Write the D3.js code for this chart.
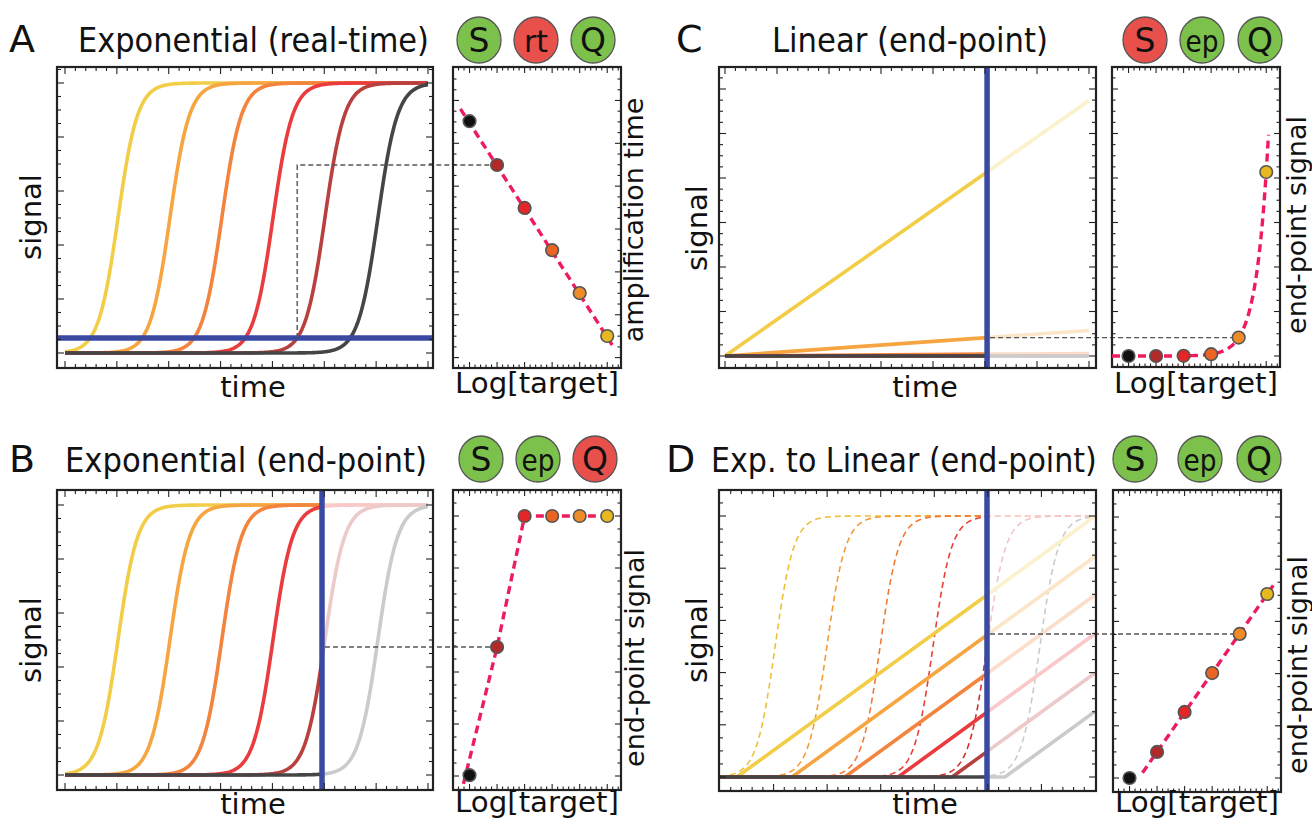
<!DOCTYPE html>
<html><head><meta charset="utf-8">
<script src="https://cdn.jsdelivr.net/npm/d3@7"></script>
<style>body{margin:0;background:#fff} svg{display:block}</style>
</head><body>
<svg id="fig" width="1312" height="821"></svg>
<script>
// ---------------- DATA ----------------
// samples ordered from highest target (earliest) to lowest target (latest)
const sampleNames = ["T6","T5","T4","T3","T2","T1"];
const logTarget = [5,4,3,2,1,0];
const curveColors = ["#f2cd48","#f6a540","#f2843e","#ea3c3e","#b8403e","#454545"];
const pointColors = ["#e8b820","#f08c28","#ec6424","#e52626","#b02a2a","#111111"];
const dashColorsD = ["#f0bf3a","#f59a35","#f07a35","#e84035","#d23030","#454545"];

const panelLetters = ["A","B","C","D"];
const panelTitles = ["Exponential (real-time)","Exponential (end-point)","Linear (end-point)","Exp. to Linear (end-point)"];
const badgeTexts = [["S","rt","Q"],["S","ep","Q"],["S","ep","Q"],["S","ep","Q"]];
const badgeOk = [[true,false,true],[true,true,false],[false,true,true],[true,true,true]];
const mainXLabel = "time";
const mainYLabel = "signal";
const sideXLabel = "Log[target]";
const sideYLabels = ["amplification time","end-point signal","end-point signal","end-point signal"];

// Panel A/B: exponential (sigmoidal) amplification curves
const expMidAB = [14.6, 28.9, 43.2, 57.3, 71.6, 86.2];
const expRateAB = 0.37;
const thresholdA = 0.056;
const ampTimeA = [7.2, 21.5, 35.8, 49.9, 64.2, 78.8];
const fitA_x = [-0.33, 5.18];
const fitA_y = [82.9, 4.2];
const connectSampleA = 4;

const blueTimeB = 70.8;
const endSignalB = [1.0, 1.0, 1.0, 1.0, 0.496, 0.003];
const fitB_x = [-0.22, 1, 2, 5];
const fitB_y = [-0.03, 0.496, 1.0, 1.0];
const connectSampleB = 4;

// Panel C: linear amplification
const blueTimeC = 72.0;
const endSignalC = [0.827, 0.0827, 0.00827, 0.000827, 0.0000827, 0.00000827];
const fitC_amp = 0.827;
const fitC_range = [-0.6, 5.08];
const connectSampleC = 1;

// Panel D: exponential to linear
const expMidD = [14.7, 28.5, 42.7, 56.8, 71.2, 85.3];
const expRateD = 0.40;
const linStartD = [4.5, 19.2, 33.3, 47.5, 61.9, 76.0];
const linSlopeD = 0.01046;
const blueTimeD = 71.2;
const endSignalD = [0.705, 0.552, 0.402, 0.253, 0.100, 0.0];
const fitD_x = [0.47, 5.22];
const fitD_y = [0.02, 0.738];
const connectSampleD = 1;

// ---------------- DRAWING ----------------
const FONT = "DejaVu Sans, Verdana, sans-serif";
const svg = d3.select("#fig");
const defs = svg.append("defs");
const BLUE = "#3a4aa2";
const FIT = "#ee1c5c";
const fade = c => d3.interpolateRgb(c, "#ffffff")(0.72);
const line = d3.line();
let clipN = 0;
function clip(x0, y0, x1, y1) {
  const id = "c" + (clipN++);
  defs.append("clipPath").attr("id", id).append("rect")
    .attr("x", x0).attr("y", y0).attr("width", x1 - x0).attr("height", y1 - y0);
  return `url(#${id})`;
}
function tickVals(lo, hi, step) {
  const out = [];
  const n0 = Math.ceil(lo / step - 1e-9), n1 = Math.floor(hi / step + 1e-9);
  for (let n = n0; n <= n1; n++) out.push(n * step);
  return out;
}
function frame(fr, xs, ys, xMaj, xMin, yMaj, yMin, majLen, minLen) {
  const g = svg.append("g").attr("stroke", "#222").attr("fill", "none");
  const [x0, y0, x1, y1] = fr;
  const xlo = Math.min(xs.invert(x0), xs.invert(x1)), xhi = Math.max(xs.invert(x0), xs.invert(x1));
  const ylo = Math.min(ys.invert(y0), ys.invert(y1)), yhi = Math.max(ys.invert(y0), ys.invert(y1));
  const isMaj = (v, s) => Math.abs(v / s - Math.round(v / s)) < 1e-6;
  tickVals(xlo, xhi, xMin).forEach(v => {
    const px = xs(v); if (px < x0 + 2 || px > x1 - 2) return;
    const L = isMaj(v, xMaj) ? majLen : minLen;
    g.append("line").attr("x1", px).attr("x2", px).attr("y1", y1).attr("y2", y1 - L).attr("stroke-width", 1.1);
    g.append("line").attr("x1", px).attr("x2", px).attr("y1", y0).attr("y2", y0 + L).attr("stroke-width", 1.1);
  });
  tickVals(ylo, yhi, yMin).forEach(v => {
    const py = ys(v); if (py < y0 + 2 || py > y1 - 2) return;
    const L = isMaj(v, yMaj) ? majLen : minLen;
    g.append("line").attr("y1", py).attr("y2", py).attr("x1", x0).attr("x2", x0 + L).attr("stroke-width", 1.1);
    g.append("line").attr("y1", py).attr("y2", py).attr("x1", x1).attr("x2", x1 - L).attr("stroke-width", 1.1);
  });
  g.append("rect").attr("x", x0).attr("y", y0).attr("width", x1 - x0).attr("height", y1 - y0)
    .attr("stroke-width", 2.2);
}
const sig = (t, m, k) => 1 / (1 + Math.exp(-k * (t - m)));
const ts = d3.range(0, 100.0001, 0.25);

function drawPoints(xs, ys, vals) {
  const g = svg.append("g");
  vals.forEach((v, i) => {
    g.append("circle").attr("cx", xs(logTarget[i])).attr("cy", ys(v)).attr("r", 6.3)
      .attr("fill", pointColors[i]).attr("stroke", "#555").attr("stroke-width", 1.6);
  });
}
function fitPath(xs, ys, px, py, cp) {
  svg.append("path").attr("d", line(px.map((x, i) => [xs(x), ys(py[i])])))
    .attr("fill", "none").attr("stroke", FIT).attr("stroke-width", 3.4)
    .attr("stroke-dasharray", "8,5").attr("clip-path", cp);
}
function connector(pts) {
  svg.append("path").attr("d", line(pts)).attr("fill", "none")
    .attr("stroke", "#555").attr("stroke-width", 1.4).attr("stroke-dasharray", "5,3");
}
function blueV(x, fr) {
  svg.append("line").attr("x1", x).attr("x2", x).attr("y1", fr[1]).attr("y2", fr[3])
    .attr("stroke", BLUE).attr("stroke-width", 5.5);
}

// ----- Panel A -----
{
  const fr = [57, 67, 433, 368], sfr = [453, 67, 621, 368];
  const xs = d3.scaleLinear().domain([0, 100]).range([65, 428]);
  const ys = d3.scaleLinear().domain([0, 1]).range([353, 83]);
  const cp = clip(fr[0], fr[1], fr[2], fr[3]);
  const g = svg.append("g").attr("clip-path", cp);
  expMidAB.forEach((m, i) => {
    g.append("path").attr("d", line(ts.map(t => [xs(t), ys(sig(t, m, expRateAB))])))
      .attr("fill", "none").attr("stroke", curveColors[i]).attr("stroke-width", 3.6);
  });
  svg.append("line").attr("x1", fr[0]).attr("x2", fr[2]).attr("y1", ys(thresholdA)).attr("y2", ys(thresholdA))
    .attr("stroke", BLUE).attr("stroke-width", 5.5);
  const sx = d3.scaleLinear().domain([-0.6, 5.5]).range([sfr[0], sfr[2]]);
  const sy = d3.scaleLinear().domain([7.2, 78.8]).range([336, 121.2]);
  const k = connectSampleA;
  const tc = expMidAB[k] - Math.log((1 - thresholdA) / thresholdA) / expRateAB;
  connector([[xs(tc), ys(thresholdA)], [xs(tc), sy(ampTimeA[k])], [sx(logTarget[k]), sy(ampTimeA[k])]]);
  frame(fr, xs, ys, 100 / 7, 100 / 35, 0.2, 0.05, 7, 4);
  frame(sfr, sx, sy, 1, 0.2, 100 / 7, 100 / 28, 6, 3.5);
  fitPath(sx, sy, fitA_x, fitA_y, clip(sfr[0], sfr[1], sfr[2], sfr[3]));
  drawPoints(sx, sy, ampTimeA);
}
// ----- Panel B -----
{
  const fr = [57, 490, 433, 790], sfr = [453, 490, 621, 790];
  const xs = d3.scaleLinear().domain([0, 100]).range([65, 428]);
  const ys = d3.scaleLinear().domain([0, 1]).range([775, 505]);
  const bx = xs(blueTimeB);
  const cpL = clip(fr[0], fr[1], bx, fr[3]), cpR = clip(bx, fr[1], fr[2], fr[3]);
  const gR = svg.append("g").attr("clip-path", cpR);
  const gL = svg.append("g").attr("clip-path", cpL);
  expMidAB.forEach((m, i) => {
    const d = line(ts.map(t => [xs(t), ys(sig(t, m, expRateAB))]));
    gR.append("path").attr("d", d).attr("fill", "none").attr("stroke", fade(curveColors[i])).attr("stroke-width", 3.6);
    gL.append("path").attr("d", d).attr("fill", "none").attr("stroke", curveColors[i]).attr("stroke-width", 3.6);
  });
  blueV(bx, fr);
  const sx = d3.scaleLinear().domain([-0.6, 5.5]).range([sfr[0], sfr[2]]);
  const sy = d3.scaleLinear().domain([0, 1]).range([776, 516]);
  const k = connectSampleB;
  connector([[bx + 3, sy(endSignalB[k])], [sx(logTarget[k]), sy(endSignalB[k])]]);
  frame(fr, xs, ys, 100 / 7, 100 / 35, 0.2, 0.05, 7, 4);
  frame(sfr, sx, sy, 1, 0.2, 0.2, 0.05, 6, 3.5);
  fitPath(sx, sy, fitB_x, fitB_y, clip(sfr[0], sfr[1], sfr[2], sfr[3]));
  drawPoints(sx, sy, endSignalB);
}
// ----- Panel C -----
{
  const fr = [719, 67, 1096, 368], sfr = [1112, 67, 1280, 367];
  const xs = d3.scaleLinear().domain([0, 100]).range([725, 1089]);
  const ys = d3.scaleLinear().domain([0, 1]).range([356, 133.5]);
  const bx = xs(blueTimeC);
  const cpL = clip(fr[0], fr[1], bx, fr[3]), cpR = clip(bx, fr[1], fr[2], fr[3]);
  const gR = svg.append("g").attr("clip-path", cpR);
  const gL = svg.append("g").attr("clip-path", cpL);
  endSignalC.forEach((e, i) => {
    const slope = e / blueTimeC;
    const d = line([[xs(0), ys(0)], [xs(100), ys(slope * 100)]]);
    gR.append("path").attr("d", d).attr("fill", "none").attr("stroke", fade(curveColors[i])).attr("stroke-width", 3.6);
    gL.append("path").attr("d", d).attr("fill", "none").attr("stroke", curveColors[i]).attr("stroke-width", 3.6);
  });
  blueV(bx, fr);
  const sx = d3.scaleLinear().domain([-0.6, 5.5]).range([sfr[0], sfr[2]]);
  const sy = d3.scaleLinear().domain([0, 1]).range([356, 133.5]);
  const k = connectSampleC;
  connector([[bx + 3, sy(endSignalC[k])], [sx(logTarget[k]), sy(endSignalC[k])]]);
  frame(fr, xs, ys, 100 / 7, 100 / 35, 0.2, 0.05, 7, 4);
  frame(sfr, sx, sy, 1, 0.2, 0.2, 0.05, 6, 3.5);
  const fx = d3.range(fitC_range[0], fitC_range[1] + 1e-9, 0.02);
  fitPath(sx, sy, fx, fx.map(x => fitC_amp * Math.pow(10, x - 5)), clip(sfr[0], sfr[1], sfr[2], sfr[3]));
  drawPoints(sx, sy, endSignalC);
}
// ----- Panel D -----
{
  const fr = [719, 490, 1096, 791], sfr = [1113, 490, 1281, 792];
  const xs = d3.scaleLinear().domain([0, 100]).range([720, 1095]);
  const ys = d3.scaleLinear().domain([0, 1]).range([777, 516]);
  const bx = xs(blueTimeD);
  const cpL = clip(fr[0], fr[1], bx, fr[3]), cpR = clip(bx, fr[1], fr[2], fr[3]);
  const gR = svg.append("g").attr("clip-path", cpR);
  const gL = svg.append("g").attr("clip-path", cpL);
  expMidD.forEach((m, i) => {
    const d = line(ts.map(t => [xs(t), ys(sig(t, m, expRateD))]));
    gR.append("path").attr("d", d).attr("fill", "none").attr("stroke", fade(dashColorsD[i])).attr("stroke-width", 1.6).attr("stroke-dasharray", "6,4");
    gL.append("path").attr("d", d).attr("fill", "none").attr("stroke", dashColorsD[i]).attr("stroke-width", 1.6).attr("stroke-dasharray", "6,4");
  });
  linStartD.forEach((s, i) => {
    const d = line([[xs(0), ys(0)], [xs(s), ys(0)], [xs(100), ys((100 - s) * linSlopeD)]]);
    gR.append("path").attr("d", d).attr("fill", "none").attr("stroke", fade(curveColors[i])).attr("stroke-width", 3.6);
    gL.append("path").attr("d", d).attr("fill", "none").attr("stroke", curveColors[i]).attr("stroke-width", 3.6);
  });
  blueV(bx, fr);
  const sx = d3.scaleLinear().domain([-0.6, 5.5]).range([sfr[0], sfr[2]]);
  const sy = d3.scaleLinear().domain([0, 1]).range([778, 517]);
  const k = connectSampleD;
  connector([[bx + 3, sy(endSignalD[k])], [sx(logTarget[k]), sy(endSignalD[k])]]);
  frame(fr, xs, ys, 100 / 7, 100 / 35, 0.2, 0.05, 7, 4);
  frame(sfr, sx, sy, 1, 0.2, 0.2, 0.05, 6, 3.5);
  fitPath(sx, sy, fitD_x, fitD_y, clip(sfr[0], sfr[1], sfr[2], sfr[3]));
  drawPoints(sx, sy, endSignalD);
}

// ---------------- TEXT ----------------
const letterPos = [[9, 52], [9, 472], [676, 52], [666, 472]];
const titlePos = [[78, 52, 351], [65, 472, 362], [772, 52, 276], [711, 472, 386]];
const badgePos = [[[479, 536, 593], 40], [[481, 538, 595], 459], [[1145, 1202, 1260], 40], [[1135, 1200, 1259], 459]];
const signalPos = [[31, 217], [31, 640], [697, 228], [697, 640]];
const timePos = [[253, 397], [253, 814], [925, 397], [925, 814]];
const logPos = [[537, 393], [537, 812], [1196, 393], [1197, 812]];
const rightPos = [[634, 220], [635, 658], [1297, 225], [1298, 665]];

const T = svg.append("g").attr("font-family", FONT).attr("fill", "#111");
// text fitted horizontally to a target width (x = left edge or centre)
function squeezed(x, y, size, width, str, anchor) {
  const t = T.append("text").attr("font-size", size).attr("text-anchor", anchor).text(str);
  const w = t.node().getComputedTextLength();
  const s = width / w;
  t.attr("transform", `translate(${x},${y}) scale(${s},1)`);
  return t;
}
panelLetters.forEach((L, i) => {
  T.append("text").attr("x", letterPos[i][0]).attr("y", letterPos[i][1]).attr("font-size", 38).text(L);
  squeezed(titlePos[i][0], titlePos[i][1], 33, titlePos[i][2], panelTitles[i], "start");
  badgePos[i][0].forEach((cx, j) => {
    const cy = badgePos[i][1];
    T.append("ellipse").attr("cx", cx).attr("cy", cy).attr("rx", 22).attr("ry", 23)
      .attr("fill", badgeOk[i][j] ? "#7cc14b" : "#e8504b").attr("stroke", "#555").attr("stroke-width", 1.3);
    const t = badgeTexts[i][j];
    const tt = T.append("text").attr("x", cx).attr("y", cy + 11.5).attr("text-anchor", "middle")
      .attr("font-size", t.length > 1 ? 30 : 33).text(t);
    if (t.length > 1) {
      const w = tt.node().getComputedTextLength();
      tt.attr("x", null).attr("y", null)
        .attr("transform", `translate(${cx},${cy + 11.5}) scale(${Math.min(1, 33 / w)},1)`);
    }
  });
  T.append("text").attr("transform", `translate(${signalPos[i][0]},${signalPos[i][1]}) rotate(-90)`)
    .attr("text-anchor", "middle").attr("dy", "0.35em").attr("font-size", 29).text(mainYLabel);
  T.append("text").attr("x", timePos[i][0]).attr("y", timePos[i][1]).attr("text-anchor", "middle")
    .attr("font-size", 29).text(mainXLabel);
  squeezed(logPos[i][0], logPos[i][1], 28, 164, sideXLabel, "middle");
  T.append("text").attr("transform", `translate(${rightPos[i][0]},${rightPos[i][1]}) rotate(-90)`)
    .attr("text-anchor", "middle").attr("dy", "0.35em").attr("font-size", 27).text(sideYLabels[i]);
});
</script></body></html>
